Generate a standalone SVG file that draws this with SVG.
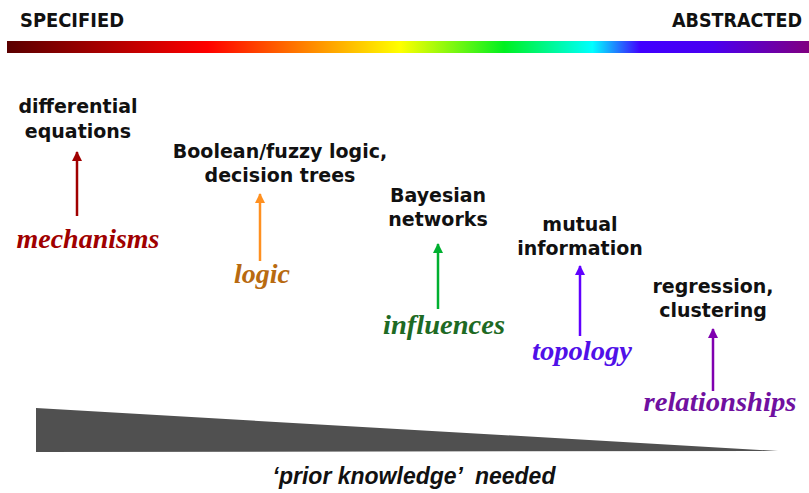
<svg xmlns="http://www.w3.org/2000/svg" width="809" height="493" viewBox="0 0 809 493">
  <defs>
    <linearGradient id="spectrum" x1="0" y1="0" x2="1" y2="0">
      <stop offset="0" stop-color="#5a0000"/>
      <stop offset="0.25" stop-color="#ff0000"/>
      <stop offset="0.37" stop-color="#ff8000"/>
      <stop offset="0.49" stop-color="#ffff00"/>
      <stop offset="0.62" stop-color="#00f020"/>
      <stop offset="0.73" stop-color="#00ffff"/>
      <stop offset="0.79" stop-color="#4000ff"/>
      <stop offset="0.88" stop-color="#4a00f0"/>
      <stop offset="1" stop-color="#800080"/>
    </linearGradient>
    <marker id="head-mech" viewBox="0 0 10 10" refX="9" refY="5" markerWidth="4" markerHeight="4" orient="auto"><path d="M0,0 L10,5 L0,10 z" fill="#a00000"/></marker>
    <marker id="head-logic" viewBox="0 0 10 10" refX="9" refY="5" markerWidth="4" markerHeight="4" orient="auto"><path d="M0,0 L10,5 L0,10 z" fill="#ff9020"/></marker>
    <marker id="head-infl" viewBox="0 0 10 10" refX="9" refY="5" markerWidth="4" markerHeight="4" orient="auto"><path d="M0,0 L10,5 L0,10 z" fill="#00b030"/></marker>
    <marker id="head-topo" viewBox="0 0 10 10" refX="9" refY="5" markerWidth="4" markerHeight="4" orient="auto"><path d="M0,0 L10,5 L0,10 z" fill="#6000ff"/></marker>
    <marker id="head-rel" viewBox="0 0 10 10" refX="9" refY="5" markerWidth="4" markerHeight="4" orient="auto"><path d="M0,0 L10,5 L0,10 z" fill="#8000b0"/></marker>
  </defs>
  <style>
    .end { font-family: "DejaVu Sans Condensed", "DejaVu Sans", sans-serif; font-weight: bold; font-size: 19.5px; fill: #111; }
    .method { font-family: "DejaVu Sans", Verdana, sans-serif; font-weight: bold; font-size: 19px; fill: #111; text-anchor: middle; }
    .kind { font-family: "Liberation Serif", "Times New Roman", serif; font-weight: bold; font-style: italic; font-size: 28px; text-anchor: middle; }
    .link { stroke-width: 2.5; fill: none; }
    .note { font-family: "Liberation Sans", Arial, sans-serif; font-weight: bold; font-style: italic; font-size: 23px; fill: #111; text-anchor: middle; white-space: pre; }
  </style>

  <rect width="809" height="493" fill="#ffffff"/>

  <!-- spectrum scale -->
  <g id="scale">
    <text class="end" x="20" y="27" textLength="104" lengthAdjust="spacingAndGlyphs">SPECIFIED</text>
    <text class="end" x="672" y="27" textLength="130" lengthAdjust="spacingAndGlyphs">ABSTRACTED</text>
    <rect x="7" y="41" width="802" height="12" fill="url(#spectrum)"/>
  </g>

  <!-- modelling approaches -->
  <g id="mechanisms">
    <text class="method" x="78" y="113">differential</text>
    <text class="method" x="78" y="138">equations</text>
    <text class="kind" x="88" y="248" textLength="143" lengthAdjust="spacingAndGlyphs" fill="#a00000">mechanisms</text>
  </g>
  <g id="logic">
    <text class="method" x="280" y="158">Boolean/fuzzy logic,</text>
    <text class="method" x="280" y="182">decision trees</text>
    <text class="kind" x="262" y="283" textLength="56" lengthAdjust="spacingAndGlyphs" fill="#b86a10">logic</text>
  </g>
  <g id="influences">
    <text class="method" x="438" y="202">Bayesian</text>
    <text class="method" x="438" y="226">networks</text>
    <text class="kind" x="444" y="334" textLength="122" lengthAdjust="spacingAndGlyphs" fill="#1e6a24">influences</text>
  </g>
  <g id="topology">
    <text class="method" x="580" y="231">mutual</text>
    <text class="method" x="580" y="255">information</text>
    <text class="kind" x="582" y="360" textLength="100" lengthAdjust="spacingAndGlyphs" fill="#5010e8">topology</text>
  </g>
  <g id="relationships">
    <text class="method" x="713" y="293">regression,</text>
    <text class="method" x="713" y="317">clustering</text>
    <text class="kind" x="720" y="411" textLength="153" lengthAdjust="spacingAndGlyphs" fill="#7010a0">relationships</text>
  </g>

  <!-- arrows from each kind of knowledge up to its method -->
  <g id="connectors">
    <line class="link" x1="77" y1="216" x2="77" y2="152" stroke="#a00000" marker-end="url(#head-mech)"/>
    <line class="link" x1="260" y1="261" x2="260" y2="194" stroke="#ff9020" marker-end="url(#head-logic)"/>
    <line class="link" x1="438" y1="309" x2="438" y2="244" stroke="#00b030" marker-end="url(#head-infl)"/>
    <line class="link" x1="580" y1="336" x2="580" y2="266" stroke="#6000ff" marker-end="url(#head-topo)"/>
    <line class="link" x1="713" y1="391" x2="713" y2="329" stroke="#8000b0" marker-end="url(#head-rel)"/>
  </g>

  <!-- prior knowledge wedge -->
  <g id="prior-knowledge">
    <polygon points="36,408 778,451 36,452" fill="#505050"/>
    <text class="note" x="414" y="484">‘prior knowledge’  needed</text>
  </g>
</svg>
